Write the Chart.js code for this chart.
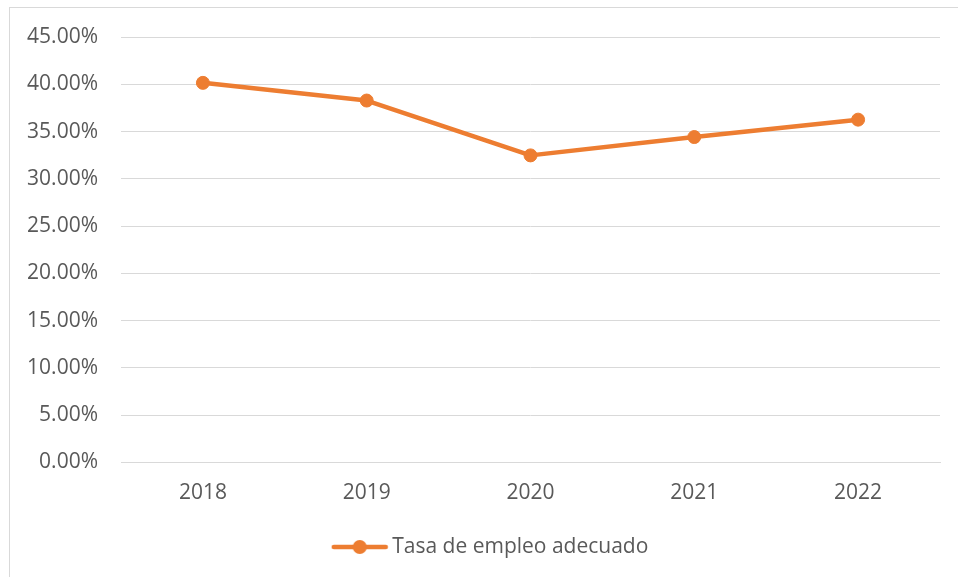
<!DOCTYPE html>
<html>
<head>
<meta charset="utf-8">
<script src="https://cdn.jsdelivr.net/npm/chart.js@4/dist/chart.umd.min.js"></script>
<style>
  html, body { margin: 0; padding: 0; background: #fff; }
  #wrap { position: relative; width: 958px; height: 577px; overflow: hidden; }
  #frame { position: absolute; left: 9px; top: 7px; width: 1000px; height: 1000px;
           border-top: 1px solid #d9d9d9; border-left: 1px solid #d9d9d9; box-sizing: border-box; }
  canvas { position: absolute; left: 0; top: 0; }
</style>
</head>
<body>
<div id="wrap">
  <div id="frame"></div>
  <canvas id="c" width="958" height="577"></canvas>
</div>
<script>
const years = ['2018', '2019', '2020', '2021', '2022'];
const tasaEmpleoAdecuado = [40.15, 38.28, 32.48, 34.42, 36.26];
const seriesName = 'Tasa de empleo adecuado';
const yMin = 0, yMax = 45, yStep = 5;

const ORANGE = '#ED7D31';
const GRID = '#d9d9d9';
const TEXT = '#595959';
const FONT = "'Open Sans', sans-serif";

// legend marker: line with a dot
const marker = document.createElement('canvas');
marker.width = 58; marker.height = 16;
(function () {
  const g = marker.getContext('2d');
  g.strokeStyle = ORANGE; g.lineWidth = 4.5; g.lineCap = 'round';
  g.beginPath(); g.moveTo(3, 8); g.lineTo(55, 8); g.stroke();
  g.fillStyle = ORANGE; g.beginPath(); g.arc(29, 8, 7, 0, Math.PI * 2); g.fill();
})();

// shift the legend's centring range to match the reference
const legendShift = {
  id: 'legendShift',
  afterLayout(chart) { if (chart.legend) { chart.legend.left += 46; } }
};

new Chart(document.getElementById('c'), {
  type: 'line',
  data: {
    labels: years,
    datasets: [{
      label: seriesName,
      data: tasaEmpleoAdecuado,
      borderColor: ORANGE,
      backgroundColor: ORANGE,
      borderWidth: 4.5,
      pointRadius: 6.5,
      pointBorderWidth: 1,
      pointBackgroundColor: ORANGE,
      pointBorderColor: ORANGE,
      tension: 0,
      borderCapStyle: 'round',
      borderJoinStyle: 'round'
    }]
  },
  plugins: [legendShift],
  options: {
    responsive: false,
    animation: false,
    devicePixelRatio: 1,
    layout: { padding: { left: 0, right: 18, top: 37, bottom: 9.5 } },
    scales: {
      x: {
        offset: true,
        afterFit: (s) => { s.height = 54; },
        grid: { display: false, drawTicks: false },
        border: { display: true, color: GRID, width: 1 },
        ticks: { color: TEXT, font: { family: FONT, size: 21 }, padding: 18 }
      },
      y: {
        min: yMin, max: yMax,
        afterFit: (s) => { s.width = 121; },
        grid: { color: GRID, lineWidth: 1, drawTicks: false },
        border: { display: false },
        ticks: {
          stepSize: yStep,
          color: TEXT,
          font: { family: FONT, size: 21 },
          padding: 23,
          callback: (v) => v.toFixed(2) + '%'
        }
      }
    },
    plugins: {
      legend: {
        position: 'bottom',
        labels: {
          usePointStyle: true,
          pointStyleWidth: 44,
          boxHeight: 16,
          padding: 20,
          color: TEXT,
          font: { family: FONT, size: 21 },
          generateLabels: (chart) => chart.data.datasets.map((d, i) => ({
            text: d.label,
            pointStyle: marker,
            fillStyle: ORANGE,
            strokeStyle: ORANGE,
            lineWidth: 0,
            fontColor: TEXT,
            datasetIndex: i,
            hidden: false
          }))
        }
      },
      tooltip: { enabled: false }
    }
  }
});
</script>
</body>
</html>
